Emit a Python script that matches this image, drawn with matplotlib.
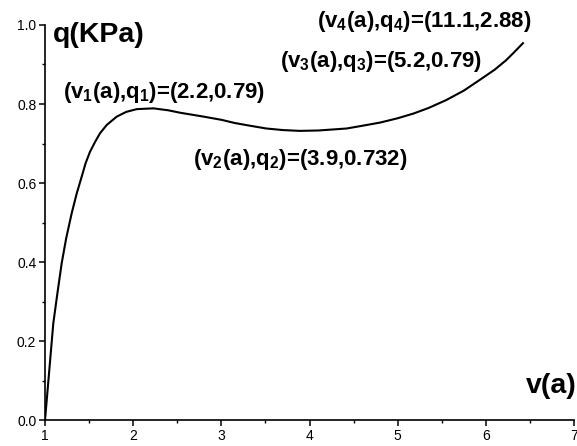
import matplotlib
matplotlib.use("Agg")
import matplotlib.pyplot as plt
from matplotlib.ticker import MultipleLocator

plt.rcParams["font.family"] = ["Liberation Sans", "DejaVu Sans"]
plt.rcParams["mathtext.fontset"] = "custom"
plt.rcParams["mathtext.rm"] = "Liberation Sans:bold"
plt.rcParams["mathtext.it"] = "Liberation Sans:bold"
plt.rcParams["mathtext.bf"] = "Liberation Sans:bold"

# curve
v = [1.0, 1.05, 1.094, 1.14, 1.189, 1.24, 1.302, 1.36, 1.416, 1.46, 1.51,
     1.57, 1.624, 1.70, 1.813, 1.92, 2.04, 2.23, 2.4, 2.53, 2.80, 3.0,
     3.15, 3.3, 3.51, 3.7, 3.89, 4.1, 4.42, 4.6, 4.80, 5.0, 5.18, 5.35,
     5.55, 5.75, 5.93, 6.1, 6.23, 6.32, 6.42]
q = [0.0, 0.13, 0.245, 0.32, 0.397, 0.46, 0.523, 0.574, 0.616, 0.65, 0.679,
     0.705, 0.726, 0.747, 0.768, 0.780, 0.787, 0.789, 0.784, 0.778, 0.768, 0.760,
     0.752, 0.746, 0.738, 0.734, 0.732, 0.733, 0.738, 0.745, 0.753, 0.764, 0.776, 0.790,
     0.810, 0.834, 0.861, 0.887, 0.911, 0.931, 0.954]

labels = [r"(v$_1$(a),q$_1$)=(2.2,0.79)",
          r"(v$_2$(a),q$_2$)=(3.9,0.732)",
          r"(v$_3$(a),q$_3$)=(5.2,0.79)",
          r"(v$_4$(a),q$_4$)=(11.1,2.88)"]
label_pos = [(1.204, 0.815), (2.678, 0.646), (3.664, 0.894), (4.084, 0.995)]

fig = plt.figure(figsize=(5.77, 4.46), dpi=100)
ax = fig.add_axes([0.078, 0.058, 0.917, 0.886])

ax.plot(v, q, color="black", lw=1.5, solid_joinstyle="round")

ax.set_xlim(1, 7)
ax.set_ylim(0, 1.0)
ax.xaxis.set_major_locator(MultipleLocator(1))
ax.xaxis.set_minor_locator(MultipleLocator(0.5))
ax.yaxis.set_major_locator(MultipleLocator(0.2))
ax.yaxis.set_minor_locator(MultipleLocator(0.1))
ax.yaxis.set_major_formatter(plt.FormatStrFormatter("%.1f"))

for s in ["top", "right"]:
    ax.spines[s].set_visible(False)
for s in ["left", "bottom"]:
    ax.spines[s].set_linewidth(1.2)

ax.tick_params(which="major", direction="out", length=4.3, width=1.1, labelsize=10, pad=2)
ax.tick_params(which="minor", direction="out", length=2.2, width=1.0)

for txt, (x, y) in zip(labels, label_pos):
    ax.text(x, y, txt, fontsize=16, fontweight="bold", va="baseline", ha="left")

ax.text(1.09, 0.957, "q(KPa)", fontsize=20.5, fontweight="bold", va="baseline", ha="left")
ax.text(6.45, 0.068, "v(a)", fontsize=20.5, fontweight="bold", va="baseline", ha="left")

fig.savefig("out.png", dpi=100)
